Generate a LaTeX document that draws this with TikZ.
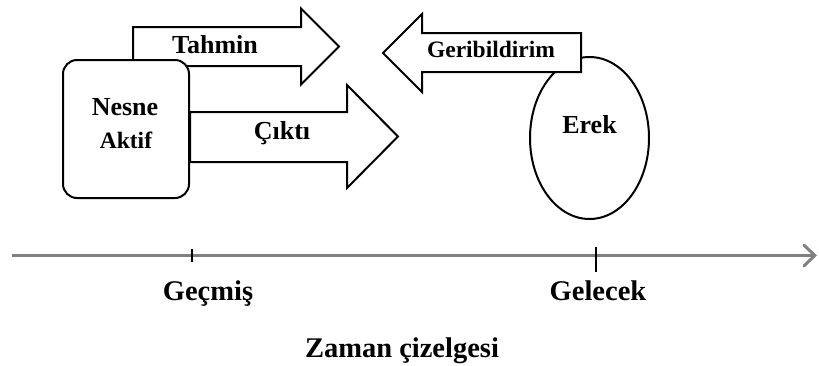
\documentclass[tikz,border=0pt]{standalone}
\usepackage{fontspec}
\setmainfont{Liberation Serif}
\usetikzlibrary{arrows.meta}
\definecolor{axisgray}{RGB}{128,128,128}
\begin{document}
\begin{tikzpicture}[x=1pt, y=-1pt,
  blockshape/.style={draw, line width=2pt, fill=white, line join=miter},
  lbl/.style={inner sep=0pt, anchor=base, font=\bfseries\fontsize{26}{30}\selectfont},
  biglbl/.style={lbl, font=\bfseries\fontsize{28.5}{32}\selectfont},
  smalllbl/.style={lbl, font=\bfseries\fontsize{23.5}{28}\selectfont}]
\useasboundingbox (0,0) rectangle (819,365);

% Tahmin arrow, behind the box
\draw[blockshape] (133,27) -- (301,27) -- (301,8.5) -- (339,46.5) -- (301,84.5) -- (301,66) -- (133,66) -- cycle;
% object box
\draw[blockshape, rounded corners=14pt] (63,60) rectangle (189,198);
% Cikti arrow
\draw[blockshape] (190,112) -- (347,112) -- (347,85) -- (398,136.5) -- (347,188) -- (347,162) -- (190,162) -- cycle;

% goal
\draw[blockshape] (589.5,138) ellipse [x radius=59.5pt, y radius=81pt];
% feedback arrow, over the goal
\draw[blockshape] (581,33) -- (422,33) -- (422,14) -- (383,53) -- (422,92) -- (422,72) -- (581,72) -- cycle;

% timeline
\coordinate (start) at (12,255.5);
\coordinate (end) at (817,255.5);
\draw[axisgray, line width=3pt, -{Straight Barb[length=11pt, width=21pt, line cap=round]}] (start) -- (end);
\coordinate (past) at (192,255.5);
\coordinate (future) at (596,255.5);
\draw[line width=1.5pt] (past) ++(0,-6.5) -- ++(0,13);
\draw[line width=1.5pt] (future) ++(0,-8.5) -- ++(0,25);

\node[lbl] (tahmin) at (215,53) {Tahmin};
\node[lbl] (nesne) at (125,115) {Nesne};
\node[smalllbl] (aktif) at (126,148) {Aktif};
\node[lbl] (cikti) at (282,139) {Çıktı};
\node[smalllbl] (geri) at (491,57) {Geribildirim};
\node[lbl] (erek) at (589.5,133) {Erek};

\node[biglbl] (gecmis) at (208,300) {Geçmiş};
\node[biglbl] (gelecek) at (598,300) {Gelecek};
\node[biglbl] (zaman) at (402,357) {Zaman çizelgesi};

\end{tikzpicture}
\end{document}
